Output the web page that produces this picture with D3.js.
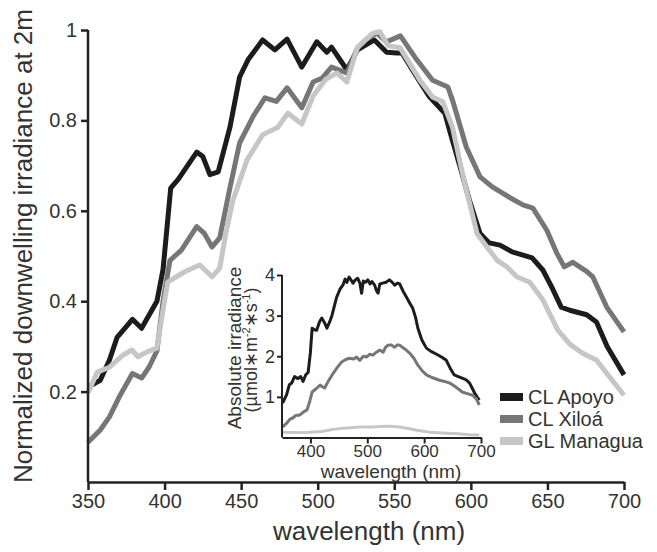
<!DOCTYPE html>
<html>
<head>
<meta charset="utf-8">
<script src="https://cdn.jsdelivr.net/npm/d3@7"></script>
<style>
  body { margin: 0; background: #fff; }
  text { font-family: "Liberation Sans", Arial, sans-serif; fill: #333; }
</style>
</head>
<body>
<div id="chart"></div>
<script>
// normalized downwelling irradiance at 2m, [wavelength, value]
const apoyo = [[350,0.21],[358,0.225],[364,0.27],[369,0.32],[374,0.34],[379,0.36],[385,0.34],[390,0.37],[395,0.40],[399,0.47],[404,0.65],[409,0.67],[414,0.695],[421,0.73],[425,0.72],[429.6,0.68],[435,0.686],[442.7,0.785],[449,0.896],[454.5,0.934],[464,0.978],[472,0.956],[480,0.98],[489.6,0.918],[499.4,0.974],[506,0.951],[509,0.962],[519,0.912],[526,0.956],[537,0.978],[545,0.951],[551.7,0.949],[555,0.949],[564.7,0.896],[573,0.852],[583,0.816],[586,0.779],[593,0.697],[599,0.624],[606,0.55],[612,0.529],[619,0.524],[627,0.509],[640,0.496],[647,0.469],[653,0.43],[659,0.387],[664.6,0.38],[675.6,0.37],[682,0.354],[689,0.3],[700,0.237]];
const xiloa = [[350,0.088],[358,0.115],[364,0.144],[371,0.192],[379,0.24],[385,0.23],[390,0.255],[395,0.29],[399,0.40],[403.5,0.49],[411,0.513],[421,0.565],[426,0.55],[431,0.52],[436,0.54],[442,0.64],[449,0.75],[457.7,0.808],[465.5,0.85],[473,0.842],[480,0.872],[489.6,0.828],[497,0.885],[503,0.894],[509,0.918],[519,0.905],[526,0.96],[532,0.98],[538.6,0.993],[545,0.974],[554,0.987],[564.7,0.934],[575,0.889],[585,0.874],[588,0.845],[597,0.741],[606,0.675],[614,0.653],[625,0.63],[634,0.613],[640.5,0.606],[649.6,0.557],[656,0.507],[661,0.476],[666.6,0.486],[675.6,0.466],[679.6,0.454],[688.7,0.387],[700,0.332]];
const managua = [[350,0.197],[356,0.243],[364,0.254],[373,0.281],[378.7,0.292],[382.6,0.277],[388.5,0.288],[395,0.296],[398,0.36],[402,0.442],[413,0.465],[423,0.48],[431,0.454],[436,0.473],[440,0.55],[444.7,0.624],[453.8,0.712],[464,0.768],[474,0.785],[480.5,0.816],[489.6,0.792],[497,0.854],[505,0.89],[512.5,0.905],[519,0.885],[526,0.962],[536,0.993],[540.6,0.996],[546,0.965],[553.7,0.961],[566.7,0.889],[575,0.852],[581.7,0.841],[588,0.785],[595,0.675],[604,0.55],[610.5,0.52],[617,0.491],[623.5,0.476],[630,0.454],[638.5,0.442],[647,0.403],[656.8,0.336],[664.6,0.305],[673,0.285],[682,0.27],[690.7,0.232],[700,0.192]];

// absolute irradiance (inset), [wavelength, umol m-2 s-1]
const apoyoAbs = [[351,0.85],[358,1.05],[363,1.3],[367,1.34],[372,1.5],[378,1.45],[383,1.5],[387,1.38],[392,1.55],[396,1.6],[400,2.1],[403,2.69],[407,2.65],[411,2.64],[416,2.85],[420,2.94],[425,2.82],[429,2.69],[434,2.85],[438,3.01],[446,3.45],[452,3.65],[457,3.75],[461,3.9],[464,3.82],[468,3.95],[475,3.8],[479,3.88],[483,3.92],[487,3.8],[490,3.55],[493,3.85],[497,3.82],[501,3.88],[505,3.78],[508,3.84],[513,3.75],[516,3.62],[519,3.55],[522,3.78],[527,3.8],[533,3.82],[539,3.88],[544,3.82],[548,3.75],[553,3.8],[557,3.78],[563,3.6],[569,3.45],[575,3.3],[580,3.18],[585,2.95],[589,2.69],[596,2.4],[604,2.2],[612,2.12],[622,2.05],[632,1.97],[639,1.9],[646,1.7],[653,1.54],[660,1.5],[667,1.46],[674,1.42],[680,1.34],[685,1.2],[689,1.09],[693,1.0],[697,0.92]];
const xiloaAbs = [[351,0.26],[358,0.35],[364,0.45],[369,0.48],[375,0.55],[381,0.55],[387,0.62],[394,0.68],[399,0.9],[403,1.12],[410,1.2],[417,1.29],[421,1.25],[425,1.22],[432,1.4],[440,1.58],[447,1.72],[455,1.86],[462,1.92],[469,1.95],[476,1.93],[481,1.98],[487,1.9],[493,2.0],[499,1.98],[504,2.05],[510,2.03],[516,2.1],[522,2.15],[528,2.1],[532,2.22],[536,2.27],[542,2.28],[548,2.22],[553,2.28],[557,2.27],[566,2.18],[575,2.07],[582,1.95],[589,1.78],[596,1.65],[604,1.54],[615,1.47],[627,1.41],[636,1.38],[645,1.34],[656,1.24],[667,1.12],[676,1.08],[685,1.04],[692,0.95],[697,0.8]];
const managuaAbs = [[351,0.13],[380,0.12],[399,0.13],[420,0.15],[440,0.2],[457,0.23],[470,0.24],[487,0.26],[510,0.26],[534,0.28],[548,0.27],[557,0.26],[572,0.22],[587,0.18],[610,0.13],[632,0.11],[660,0.09],[680,0.07],[697,0.06]];

const names = ['CL Apoyo', 'CL Xiloá', 'GL Managua'];
const colors = ['#1c1c1c', '#767676', '#c6c6c6'];
const xTicks = [350, 400, 450, 500, 550, 600, 650, 700];
const yTicks = [0.2, 0.4, 0.6, 0.8, 1];
const insetXTicks = [400, 500, 600, 700];
const insetYTicks = [1, 2, 3, 4];

const width = 657, height = 552;
const svg = d3.select('#chart').append('svg')
  .attr('width', width)
  .attr('height', height);

function styleAxis(g, w) {
  g.select('.domain').attr('stroke', '#222').attr('stroke-width', w);
  g.selectAll('.tick line').attr('stroke', '#222').attr('stroke-width', w);
  g.selectAll('.tick text').style('fill', '#333');
}

// ---- main chart
let x = d3.scaleLinear().domain([350, 700]).range([88, 624]);
let y = d3.scaleLinear().domain([0, 1]).range([482, 30]);

let line = d3.line().x(d => x(d[0])).y(d => y(d[1]));

[apoyo, xiloa, managua].forEach((s, i) => {
  svg.append('path')
    .datum(s)
    .attr('d', line)
    .attr('fill', 'none')
    .attr('stroke', colors[i])
    .attr('stroke-width', 5)
    .attr('stroke-linejoin', 'round');
});

svg.append('g')
  .attr('transform', 'translate(0,482)')
  .call(d3.axisBottom(x).tickValues(xTicks).tickSize(8).tickPadding(4).tickSizeOuter(0))
  .call(g => g.selectAll('text').style('font-size', '20px'))
  .call(g => styleAxis(g, 2.5));

svg.append('g')
  .attr('transform', 'translate(88,0)')
  .call(d3.axisLeft(y).tickValues(yTicks).tickFormat(d3.format('')).tickSize(7).tickPadding(4).tickSizeOuter(0))
  .call(g => g.select('.domain').attr('d', `M0,${y(1)}V${y(0)}`))
  .call(g => g.selectAll('text').style('font-size', '20px'))
  .call(g => styleAxis(g, 2.5));

svg.append('text')
  .attr('transform', 'translate(32,246) rotate(-90)')
  .attr('text-anchor', 'middle')
  .style('font-size', '26px')
  .text('Normalized downwelling irradiance at 2m');

svg.append('text')
  .attr('x', 369).attr('y', 540)
  .attr('text-anchor', 'middle')
  .style('font-size', '26px')
  .text('wavelength (nm)');

// ---- inset
let xi = d3.scaleLinear().domain([350, 700]).range([282, 481]);
let yi = d3.scaleLinear().domain([0, 4]).range([437.5, 275]);
let lineI = d3.line().x(d => xi(d[0])).y(d => yi(d[1]));

[apoyoAbs, xiloaAbs, managuaAbs].forEach((s, i) => {
  svg.append('path')
    .datum(s)
    .attr('d', lineI)
    .attr('fill', 'none')
    .attr('stroke', colors[i])
    .attr('stroke-width', 3)
    .attr('stroke-linejoin', 'round');
});

svg.append('g')
  .attr('transform', 'translate(0,437.5)')
  .call(d3.axisBottom(xi).tickValues(insetXTicks).tickSize(6).tickPadding(1).tickSizeOuter(0))
  .call(g => g.selectAll('text').style('font-size', '17px'))
  .call(g => styleAxis(g, 2));

svg.append('g')
  .attr('transform', 'translate(282,0)')
  .call(d3.axisLeft(yi).tickValues(insetYTicks).tickFormat(d3.format('d')).tickSize(5).tickPadding(2).tickSizeOuter(0))
  .call(g => g.select('.domain').attr('d', `M0,${yi(4)}V${yi(0)}`))
  .call(g => g.selectAll('text').style('font-size', '18px'))
  .call(g => styleAxis(g, 2));

svg.append('text')
  .attr('transform', 'translate(241,348) rotate(-90)')
  .attr('text-anchor', 'middle')
  .style('font-size', '19px')
  .text('Absolute irradiance');

let unit = svg.append('text')
  .attr('transform', 'translate(257,350) rotate(-90)')
  .attr('text-anchor', 'middle')
  .style('font-size', '18px');
unit.append('tspan').text('(µmol∗m');
unit.append('tspan').attr('dy', -7).style('font-size', '11px').text('-2');
unit.append('tspan').attr('dy', 7).text('∗s');
unit.append('tspan').attr('dy', -7).style('font-size', '11px').text('-1');
unit.append('tspan').attr('dy', 7).text(')');

svg.append('text')
  .attr('x', 391).attr('y', 478)
  .attr('text-anchor', 'middle')
  .style('font-size', '19px')
  .text('wavelength (nm)');

// ---- legend
let legend = svg.append('g');
names.forEach((n, i) => {
  legend.append('rect')
    .attr('x', 500).attr('y', 393 + i * 22)
    .attr('width', 23).attr('height', 8)
    .attr('fill', colors[i]);
  legend.append('text')
    .attr('x', 528).attr('y', 404 + i * 22)
    .style('font-size', '20px')
    .text(n);
});
</script>
</body>
</html>
